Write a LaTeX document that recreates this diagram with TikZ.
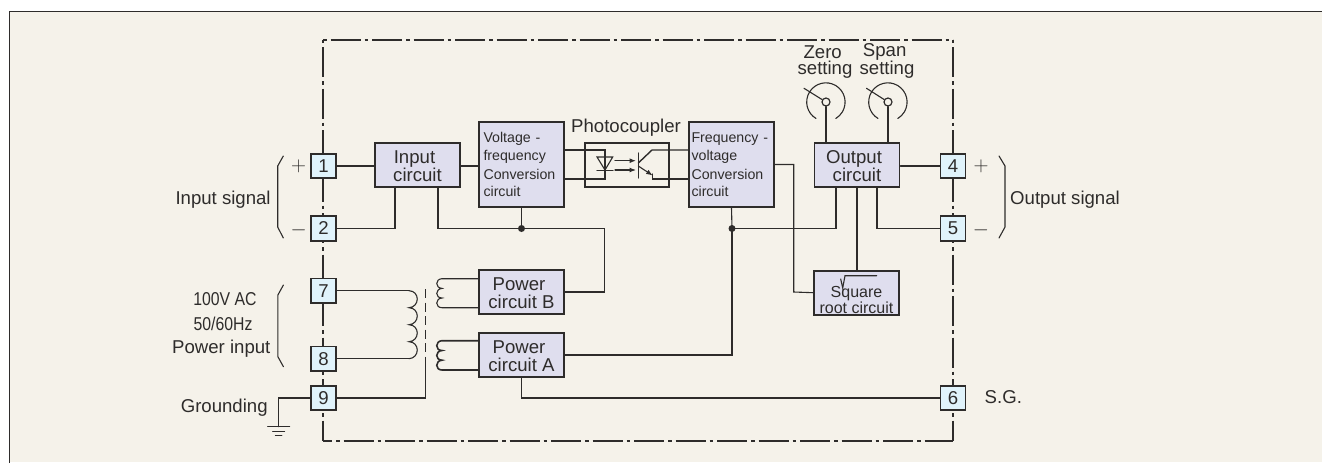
\documentclass[tikz,border=0pt]{standalone}
\usepackage{fontspec}
\setmainfont{Liberation Sans}
\newfontfamily\narrowfont[FakeStretch=0.85]{Liberation Sans}
\usetikzlibrary{arrows.meta}
\definecolor{ink}{HTML}{2E2C2B}
\definecolor{paper}{HTML}{F5F2EA}
\definecolor{blockfill}{HTML}{DFDEEE}
\definecolor{termfill}{HTML}{E0F3FB}
\newcommand{\fs}[2]{\fontsize{#1}{#2}\selectfont}
\newcommand{\dn}{\rule{0pt}{16pt}}
\tikzset{
  wire/.style={draw=ink,line width=1.1pt,line cap=round,line join=miter},
  thickwire/.style={draw=ink,line width=1.6pt},
  border/.style={draw=ink,line width=2pt,dash pattern=on 3.5pt off 4pt on 30pt off 4pt},
  blockbox/.style={draw=ink,fill=blockfill,line width=1.8pt,inner sep=0pt,text=ink,align=center},
  bigblock/.style={blockbox,minimum width=85pt,minimum height=85pt,align=left,text width=76pt,font=\fs{14.2}{18.7}},
  smallblock/.style={blockbox,minimum width=85pt,minimum height=44pt,font=\fs{18.6}{18}},
  term/.style={draw=ink,fill=termfill,line width=1.6pt,minimum width=25pt,minimum height=24.5pt,inner sep=0pt,text=ink,font=\fs{18.6}{20}},
  lab/.style={text=ink,inner sep=0pt,font=\fs{18.6}{18},align=center},
  junction/.style={circle,fill=ink,inner sep=0pt,minimum size=7pt},
  knob/.style={circle,draw=ink,fill=paper,line width=1.2pt,inner sep=0pt,minimum size=8pt},
  tip/.style={-{Latex[length=6.5pt,width=5pt]}}
}
\begin{document}
\begin{tikzpicture}[x=1pt,y=-1pt]
\useasboundingbox (0,0) rectangle (1322,463);
\fill[paper] (9,11) rectangle (1322,462);
\draw[draw=ink,line width=1pt] (9,463) -- (9,11) -- (1322,11);

% enclosure
\coordinate (tl) at (323,39.5);
\coordinate (tr) at (953,39.5);
\coordinate (bl) at (323,440.7);
\coordinate (br) at (953,440.7);
\draw[border] (tl) -- (tr);
\draw[border] (tl) -- (bl);
\draw[border] (tr) -- (br);
\draw[border,dash phase=28.5pt] (bl) -- (br);

% terminals
\node[term] (t1) at (323.5,166) {1};
\node[term] (t2) at (323.5,228.5) {2};
\node[term] (t7) at (323.5,290.7) {7};
\node[term] (t8) at (323.5,358.7) {8};
\node[term] (t9) at (323.5,398) {9};
\node[term] (t4) at (953,166) {4};
\node[term] (t5) at (953,228.5) {5};
\node[term] (t6) at (953,398) {6};

% blocks
\node[smallblock] (input) at (417.5,165) {\dn\hspace{-6pt}Input\\circuit};
\node[bigblock] (vf) at (521.5,164.5) {Voltage -\\frequency\\Conversion\\[-1.5pt]circuit};
\node[bigblock] (fv) at (731.5,164.5) {\hspace{-2pt}Frequency -\\\hspace{-2pt}voltage\\\hspace{-2pt}Conversion\\[-1.5pt]\hspace{-2pt}circuit};
\node[smallblock] (output) at (857,165) {\dn\hspace{-6pt}Output\\circuit};
\node[smallblock] (pb) at (521.5,292) {\dn\hspace{-5pt}Power\\circuit B};
\node[smallblock] (pa) at (521.5,355) {\dn\hspace{-5pt}Power\\circuit A};
\node[blockbox,minimum width=85pt,minimum height=44pt,font=\fs{16}{14}] (sq) at (856.5,292.7) {\rule{0pt}{25pt}Square\\root circuit};

% square-root sign
\draw[wire] (840.7,279) -- (842.7,288) -- (845,275.7) -- (876.7,275.7);

% photocoupler
\node[draw=ink,line width=1.7pt,minimum width=84pt,minimum height=44pt,inner sep=0pt] (pc) at (627,165) {};
\node[lab] (pclabel) at (626,128) {Photocoupler};
\coordinate (da) at (605,150);
\coordinate (dk) at (605,179);
\coordinate (cj) at (652,150);
\coordinate (ej) at (652.7,179);
\draw[wire,line width=1.4pt] (vf.east |- da) -- (da) -- (605,170);
\draw[wire,line width=1.4pt] (vf.east |- dk) -- (dk) -- (605,170);
\draw[wire] (597,157) -- (612.7,157) -- (605,170) -- cycle;
\draw[wire] (597,170.5) -- (613,170.5);
\draw[wire,tip] (615,160.7) -- (636,160.7);
\draw[wire,tip] (615,170) -- (636,170);
\draw[wire,line width=1.4pt] (638.3,153) -- (638.3,178);
\draw[wire,line width=1.4pt] (638.3,163) -- (cj) -- (fv.west |- cj);
\draw[wire,line width=1.4pt] (652.7,174) -- (ej) -- (fv.west |- ej);
\draw[wire,tip] (638.3,166) -- (652.7,175.5);

% junctions
\node[junction] (ja) at (521.5,228.5) {};
\node[junction] (jb) at (732,228.5) {};

% connections
\draw[wire] (t1) -- (input.west |- t1);
\draw[wire] (input.east |- 0,166) -- (vf.west |- 0,166);
\draw[wire] (t2.east) -| ([xshift=-22.5pt]input.south);
\draw[wire] ([xshift=20.5pt]input.south) |- (ja.center);
\draw[wire] (ja.center) -- (vf.south);
\coordinate (pbr) at (604.5,292);
\draw[wire] (ja.center) -| (pbr) -- (pb.east);
\draw[wire] (jb.center) -- (fv.south);
\draw[wire] (pa.east) -| (jb.center);
\draw[wire] (jb.center) -| ([xshift=-21pt]output.south);
\draw[wire] (output.south) -- (sq.north -| output.south);
\draw[wire] ([xshift=20pt]output.south) |- (t5.west);
\draw[wire] (output.east |- t4) -- (t4);
\draw[wire] (fv.east) -| (793.7,292) -- (sq.west);
\draw[wire] (pa.south) |- (t6.west);

% knobs
\node[knob] (kz) at (826,102) {};
\node[knob] (ks) at (888,102) {};
\draw[wire] (kz) -- ([xshift=-31pt]output.north);
\draw[wire] (ks) -- ([xshift=31pt]output.north);
\draw[wire] (kz) -- (804,88.3);
\draw[wire] (ks) -- (866.5,88.3);
\foreach \k in {kz,ks} {
  \draw[wire,shift={(\k)}] (-10,16.5) arc[start angle=121,end angle=419,radius=19.2];
}
\node[lab] (zero1) at (822.7,52) {Zero};
\node[lab] (zero2) at (825,70) {setting};
\node[lab] (span1) at (884.7,52) {Span};
\node[lab] (span2) at (887,70) {setting};

% transformer
\coordinate (p1) at (409,290.7);
\coordinate (p2) at (409,358.7);
\draw[wire] (t7.east) -- (p1);
\draw[wire] (t8.east) -- (p2);
\draw[wire] (p1) .. controls (420,291) and (420,307) .. (409,307.7)
  .. controls (420,308) and (420,324) .. (409,324.7)
  .. controls (420,325) and (420,341) .. (409,341.7)
  .. controls (420,342) and (420,358) .. (p2);
\coordinate (coreT) at (425.7,289);
\coordinate (coreM) at (425.7,360.7);
\coordinate (coreB) at (425.7,398);
\draw[wire,line cap=butt,dash pattern=on 9pt off 4.5pt] (coreT) -- (coreM);
\draw[wire] (t9.east) -- (coreB) -- (coreM);

\coordinate (s1) at (442,278.7);
\draw[wire] (pb.west |- s1) -- (s1)
  .. controls (435,279) and (435,288) .. (442,288.4)
  .. controls (435,289) and (435,298) .. (442,298)
  .. controls (435,298.5) and (435,307.7) .. (442,307.7) -- (pb.west |- 0,307.7);
\coordinate (s2) at (442,340.7);
\draw[thickwire] (pa.west |- s2) -- (s2)
  .. controls (435,341) and (435,350.5) .. (442,350.5)
  .. controls (435,351) and (435,360) .. (442,360.2)
  .. controls (435,360.7) and (435,370) .. (442,370) -- (pa.west |- 0,370);

% ground
\coordinate (g0) at (278.6,426.7);
\draw[wire] (t9.west) -| (g0);
\draw[wire] (267.6,426.7) -- (289.7,426.7);
\draw[wire] (272.7,431.2) -- (284.6,431.2);
\draw[wire] (275.5,435.7) -- (281.8,435.7);

% braces
\draw[wire] (283.3,156) -- (277.7,166) -- (277.7,227) -- (283.3,238);
\draw[wire] (283.4,285) -- (277.9,295) -- (277.9,356.7) -- (283.4,366.7);
\draw[wire] (999,156) -- (1005,166) -- (1005,227) -- (999,238);

% signs
\node[text=ink,inner sep=0pt] (sp1) at (298.7,166) {\fs{20}{20}$+$};
\node[text=ink,inner sep=0pt] (sm1) at (298.7,230) {\fs{20}{20}$-$};
\node[text=ink,inner sep=0pt] (sp2) at (981,166) {\fs{20}{20}$+$};
\node[text=ink,inner sep=0pt] (sm2) at (981,230) {\fs{20}{20}$-$};

% labels
\node[lab,anchor=west] (insig) at (175.3,200) {Input signal};
\node[lab,anchor=west] (outsig) at (1010,200) {Output signal};
\node[lab,font=\narrowfont\fs{18.6}{18}] (ac) at (225,299) {100V AC};
\node[lab,font=\narrowfont\fs{18.6}{18}] (hz) at (223,324) {50/60Hz};
\node[lab,anchor=west] (pin) at (172,349) {Power input};
\node[lab,anchor=west] (gnd) at (180.6,408) {Grounding};
\node[lab,anchor=west] (sg) at (984.5,397) {S.G.};
\end{tikzpicture}
\end{document}
